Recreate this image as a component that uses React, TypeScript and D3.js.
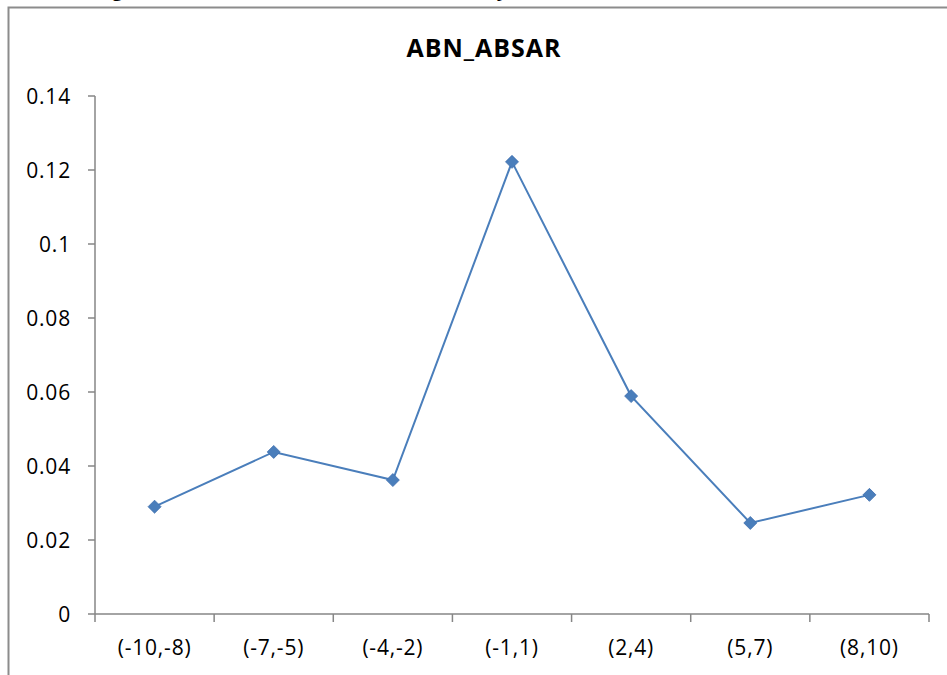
import React from "react";
import * as d3 from "d3";

const categories = ["(-10,-8)", "(-7,-5)", "(-4,-2)", "(-1,1)", "(2,4)", "(5,7)", "(8,10)"];
const values = [0.029, 0.0438, 0.0362, 0.1222, 0.0589, 0.0246, 0.0322];
const yTicks = [0, 0.02, 0.04, 0.06, 0.08, 0.1, 0.12, 0.14];
const yTickLabels = ["0", "0.02", "0.04", "0.06", "0.08", "0.1", "0.12", "0.14"];
const title = "ABN_ABSAR";
const caption = "Figure 2: Abnormal Absolute Model-adjusted Return Standard Deviation bias";

export default function App() {
  const W = 947, H = 675;
  const left = 95, right = 929, top = 96, bottom = 614;
  const x = d3.scaleBand<string>().domain(categories).range([left, right]);
  const y = d3.scaleLinear().domain([0, 0.14]).range([bottom, top]);
  const line = d3.line<number>()
    .x((_, i) => (x(categories[i]) as number) + x.bandwidth() / 2)
    .y((d) => y(d));
  const axisColor = "#868686";
  const font = "'Open Sans', sans-serif";
  const bounds = categories.map((c) => x(c) as number).concat([right]);
  return (
    <svg width={W} height={H} style={{ position: "fixed", left: 0, top: 0 }}>
      <rect x={0} y={0} width={W} height={H} fill="#fff" />
      <text x={495} y={-4} textAnchor="middle" fontFamily="'Liberation Serif', serif" fontWeight="bold" fontSize={21} letterSpacing={1.5} fill="#000">{caption}</text>
      <path d={`M8.5,${H} V7.5 H${W}`} fill="none" stroke="#8c8c8c" strokeWidth={2} />
      <text x={484} y={57} textAnchor="middle" fontFamily={font} fontWeight="bold" fontSize={25} letterSpacing={1} fill="#000">{title}</text>
      {/* y axis */}
      <line x1={left} x2={left} y1={top} y2={bottom} stroke={axisColor} strokeWidth={1.5} />
      {yTicks.map((t, i) => (
        <g key={i}>
          <line x1={left - 7} x2={left} y1={y(t)} y2={y(t)} stroke={axisColor} strokeWidth={1.5} />
          <text x={71} y={y(t)} dy="0.36em" textAnchor="end" fontFamily={font} fontSize={21} letterSpacing={0.8} fill="#000">{yTickLabels[i]}</text>
        </g>
      ))}
      {/* x axis */}
      <line x1={left} x2={right} y1={bottom} y2={bottom} stroke={axisColor} strokeWidth={1.5} />
      {bounds.map((b, i) => (
        <line key={i} x1={b} x2={b} y1={bottom} y2={bottom + 8} stroke={axisColor} strokeWidth={1.5} />
      ))}
      {categories.map((c) => (
        <text key={c} x={(x(c) as number) + x.bandwidth() / 2} y={655} textAnchor="middle" fontFamily={font} fontSize={21} letterSpacing={0.8} fill="#000">{c}</text>
      ))}
      <path d={line(values) || ""} fill="none" stroke="#4a7ebb" strokeWidth={2} />
      {values.map((v, i) => {
        const cx = (x(categories[i]) as number) + x.bandwidth() / 2;
        const cy = y(v);
        const s = 6.5;
        return <path key={i} d={`M${cx},${cy - s} L${cx + s},${cy} L${cx},${cy + s} L${cx - s},${cy} Z`} fill="#4a7ebb" stroke="#3f6fae" strokeWidth={0.8} />;
      })}
    </svg>
  );
}
